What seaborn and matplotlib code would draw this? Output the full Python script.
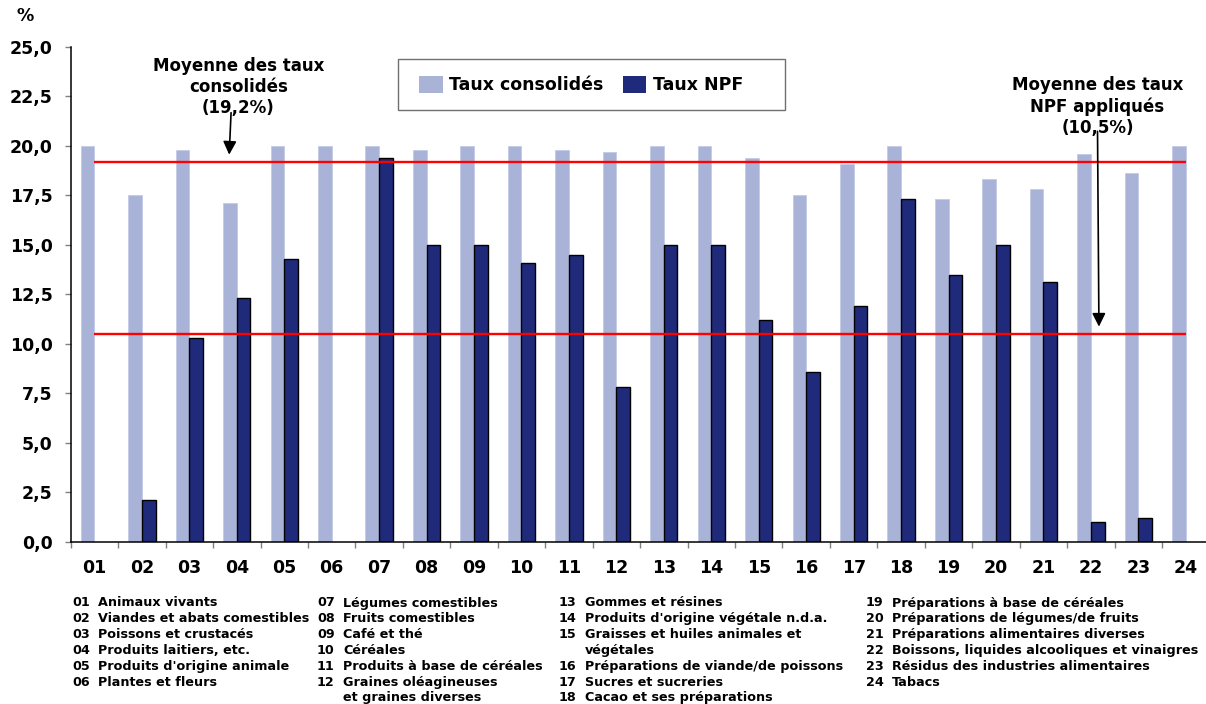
import numpy as np
import pandas as pd
import matplotlib
matplotlib.use("Agg")
import matplotlib.pyplot as plt
from matplotlib.patches import Patch, Rectangle
from matplotlib.ticker import FixedLocator
import seaborn as sns

# --- data -----------------------------------------------------------------
codes = ["01", "02", "03", "04", "05", "06", "07", "08", "09", "10", "11", "12",
         "13", "14", "15", "16", "17", "18", "19", "20", "21", "22", "23", "24"]
taux_consolides = [20.0, 17.5, 19.8, 17.1, 20.0, 20.0, 20.0, 19.8, 20.0, 20.0, 19.8, 19.7,
                   20.0, 20.0, 19.4, 17.5, 19.1, 20.0, 17.3, 18.3, 17.8, 19.6, 18.6, 20.0]
taux_npf = [np.nan, 2.1, 10.3, 12.3, 14.3, np.nan, 19.4, 15.0, 15.0, 14.1, 14.5, 7.8,
            15.0, 15.0, 11.2, 8.6, 11.9, 17.3, 13.5, 15.0, 13.1, 1.0, 1.2, np.nan]
moyenne_consolides = 19.2
moyenne_npf = 10.5
series = ["Taux consolidés", "Taux NPF"]
y_ticks = [0.0, 2.5, 5.0, 7.5, 10.0, 12.5, 15.0, 17.5, 20.0, 22.5, 25.0]

libelles = [
    ("01", "Animaux vivants"),
    ("02", "Viandes et abats comestibles"),
    ("03", "Poissons et crustacés"),
    ("04", "Produits laitiers, etc."),
    ("05", "Produits d'origine animale"),
    ("06", "Plantes et fleurs"),
    ("07", "Légumes comestibles"),
    ("08", "Fruits comestibles"),
    ("09", "Café et thé"),
    ("10", "Céréales"),
    ("11", "Produits à base de céréales"),
    ("12", "Graines oléagineuses\net graines diverses"),
    ("13", "Gommes et résines"),
    ("14", "Produits d'origine végétale n.d.a."),
    ("15", "Graisses et huiles animales et\nvégétales"),
    ("16", "Préparations de viande/de poissons"),
    ("17", "Sucres et sucreries"),
    ("18", "Cacao et ses préparations"),
    ("19", "Préparations à base de céréales"),
    ("20", "Préparations de légumes/de fruits"),
    ("21", "Préparations alimentaires diverses"),
    ("22", "Boissons, liquides alcooliques et vinaigres"),
    ("23", "Résidus des industries alimentaires"),
    ("24", "Tabacs"),
]

# --- style ----------------------------------------------------------------
sns.set_style("white")
plt.rcParams["font.family"] = ["DejaVu Sans"]
plt.rcParams["font.weight"] = "bold"
plt.rcParams["text.color"] = "black"
plt.rcParams["xtick.color"] = "black"
plt.rcParams["ytick.color"] = "black"
plt.rcParams["axes.labelcolor"] = "black"

LIGHT = "#A9B3D8"
DARK = "#1F2A7A"
RED = "#FF0000"

W, H = 1206, 704
fig = plt.figure(figsize=(W / 100, H / 100), dpi=100)
fig.patch.set_facecolor("white")

def fx(px):
    return px / W

def fy(py):
    return 1 - py / H

# axes: extends a little past the right edge of the figure
ax = fig.add_axes([fx(70.7), fy(542), (24 * 47.45) / W, (542 - 46.7) / H])

df = pd.DataFrame({
    "code": codes * 2,
    "serie": [series[0]] * len(codes) + [series[1]] * len(codes),
    "taux": taux_consolides + taux_npf,
}).dropna()

sns.barplot(data=df, x="code", y="taux", hue="serie", order=codes,
            hue_order=series, palette=[LIGHT, DARK], saturation=1,
            width=0.575, gap=0, legend=False, ax=ax, errorbar=None)

for bar in ax.containers[0]:
    bar.set_edgecolor("#C3CAE8")
    bar.set_linewidth(0.6)
for bar in ax.containers[1]:
    bar.set_edgecolor("black")
    bar.set_linewidth(1.0)

# average lines
ax.hlines([moyenne_consolides, moyenne_npf], 0, len(codes) - 1,
          colors=RED, linewidth=1.7, zorder=5)

ax.set_xlim(-0.5, len(codes) - 0.5)
ax.set_ylim(0, 25)
ax.set_xlabel("")
ax.set_ylabel("")

ax.set_xticks(range(len(codes)))
ax.set_xticklabels(codes, fontsize=12.5, fontweight="bold")
ax.xaxis.set_minor_locator(FixedLocator(np.arange(-0.5, len(codes), 1.0)))
ax.tick_params(axis="x", which="major", length=0, pad=12)
ax.tick_params(axis="x", which="minor", length=4, width=1, color="#808080",
               direction="out", bottom=True)

ax.set_yticks(y_ticks)
ax.set_yticklabels([f"{v:.1f}".replace(".", ",") for v in y_ticks],
                   fontsize=12.5, fontweight="bold")
ax.tick_params(axis="y", length=4, width=1, color="#808080", labelcolor="black",
               direction="out", left=True, pad=9)

for side in ("top", "right"):
    ax.spines[side].set_visible(False)
for side in ("left", "bottom"):
    ax.spines[side].set_color("black")
    ax.spines[side].set_linewidth(1.1)

# annotations
fmt = lambda v: f"{v:.1f}".replace(".", ",")
ax.text(3.03, 22.98, f"Moyenne des taux\nconsolidés\n({fmt(moyenne_consolides)}%)",
        ha="center", va="center", fontsize=12, fontweight="bold",
        linespacing=1.22, zorder=6)
ax.annotate("", xy=(2.84, moyenne_consolides + 0.35), xytext=(2.88, 21.67),
            arrowprops=dict(arrowstyle="-|>", color="black", lw=1.2,
                            mutation_scale=20, shrinkA=0, shrinkB=0), zorder=7)

ax.text(21.14, 21.97, f"Moyenne des taux\nNPF appliqués\n({fmt(moyenne_npf)}%)",
        ha="center", va="center", fontsize=12, fontweight="bold",
        linespacing=1.22, zorder=6)
ax.annotate("", xy=(21.17, moyenne_npf + 0.37), xytext=(21.14, 20.73),
            arrowprops=dict(arrowstyle="-|>", color="black", lw=1.2,
                            mutation_scale=20, shrinkA=0, shrinkB=0), zorder=7)

# unit label
fig.text(fx(25), fy(16), "%", ha="center", va="center", fontsize=12.5,
         fontweight="bold")

# legend with a plain rectangular frame
handles = [Patch(facecolor=LIGHT, edgecolor="none"),
           Patch(facecolor=DARK, edgecolor="none")]
fig.legend(handles, series, loc="center left",
           bbox_to_anchor=(fx(419), fy(85)), bbox_transform=fig.transFigure,
           ncol=2, frameon=False, prop={"weight": "bold", "size": 12.5},
           handlelength=1.38, handleheight=1.1, handletextpad=0.35,
           columnspacing=1.1, borderpad=0, borderaxespad=0)
fig.patches.append(Rectangle((fx(397.6), fy(110)), (785 - 397.6) / W, (110 - 58.5) / H,
                             transform=fig.transFigure, fill=False,
                             edgecolor="#707070", linewidth=1.0))

# code list below the chart
col_x = [72, 317, 559, 866]
row_y0, row_dy = 603, 15.83
per_col = [6, 6, 6, 6]
idx = 0
for c, n in enumerate(per_col):
    row = 0
    for _ in range(n):
        num, lab = libelles[idx]
        idx += 1
        lines = lab.split("\n")
        for j, line in enumerate(lines):
            y = row_y0 + (row + j) * row_dy
            if j == 0:
                fig.text(fx(col_x[c]), fy(y), num, ha="left", va="center",
                         fontsize=9.2, fontweight="bold")
            fig.text(fx(col_x[c] + 26), fy(y), line, ha="left", va="center",
                     fontsize=9.2, fontweight="bold")
        row += len(lines)

fig.savefig("out.png", dpi=100, facecolor="white")
